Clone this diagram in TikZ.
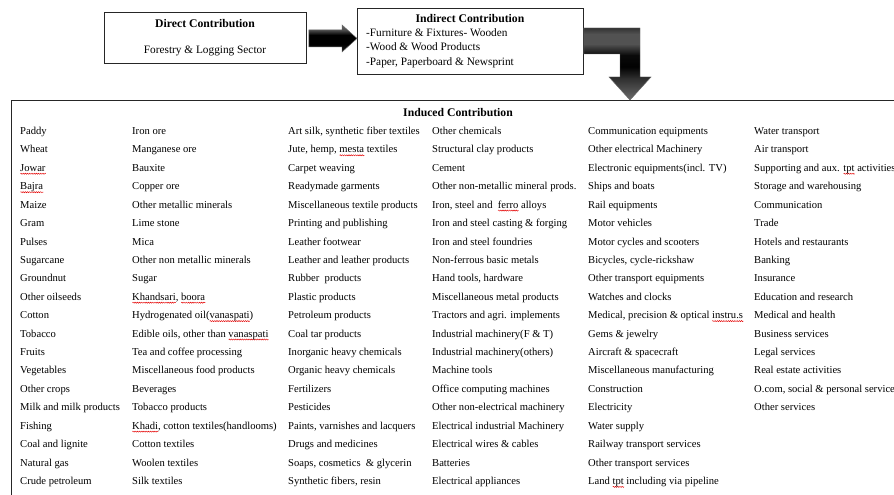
\documentclass[tikz,border=0pt]{standalone}
\usepackage{fontspec}
\setmainfont{Liberation Serif}
\usetikzlibrary{calc,decorations.pathmorphing}
% red wavy underline, as a spell checker marks a word
\newsavebox\spellbox
\newlength\spelllen
\newcommand\spellmark[1]{\sbox\spellbox{#1}\setlength\spelllen{\wd\spellbox}%
  \rlap{\tikz[baseline=0pt, x=1bp, y=1bp]\draw[red!90!black, line width=0.45bp, decorate,
    decoration={zigzag, segment length=2.2bp, amplitude=0.55bp}] (0,-2.4) -- (\spelllen,-2.4bp);}%
  \usebox\spellbox}

\tikzset{
  frame/.style={draw=black!85, line width=0.9bp, inner sep=0},
  headtext/.style={font=\fontsize{11.7bp}{14bp}\selectfont\bfseries, inner sep=0},
  boxtext/.style={font=\fontsize{11.3bp}{14.5bp}\selectfont, inner sep=0},
  item/.style={anchor=base west, inner sep=0, font=\fontsize{10.6bp}{12bp}\selectfont},
  arrowedge/.style={draw=black!60, line width=0.45bp},
}

\begin{document}
\begin{tikzpicture}[x=1bp, y=-1bp]
  \useasboundingbox (0,0) rectangle (894,495);
  \fill[white] (0,0) rectangle (894,495);

  % direct contribution
  \node[frame, anchor=north west, minimum width=202bp, minimum height=51bp] (direct) at (104,12) {};
  \node[headtext, anchor=base] (directtitle) at (205,28) {Direct Contribution};
  \node[boxtext, anchor=base] (directsector) at (205,54) {Forestry \& Logging Sector};

  % indirect contribution
  \node[frame, anchor=north west, minimum width=226bp, minimum height=66bp] (indirect) at (357,8) {};
  \node[headtext, anchor=base] (indirecttitle) at (470,23) {Indirect Contribution};
  \node[boxtext, anchor=base west] (ind1) at (366,36.5) {-Furniture \& Fixtures- Wooden};
  \node[boxtext, anchor=base west] (ind2) at (366,50.5) {-Wood \& Wood Products};
  \node[boxtext, anchor=base west] (ind3) at (366,65.5) {-Paper, Paperboard \& Newsprint};

  % induced contribution (frame runs past the page edge)
  \node[frame, anchor=north west, minimum width=920bp, minimum height=420bp] (induced) at (11,100) {};
  \node[headtext, anchor=base] (inducedtitle) at (458,117) {Induced Contribution};

  % sectors, column by column
  \foreach \t [count=\i] in {Paddy, Wheat, \spellmark{Jowar}, \spellmark{Bajra}, Maize, Gram, Pulses,
      Sugarcane, Groundnut, Other oilseeds, Cotton, Tobacco, Fruits, Vegetables, Other crops,
      Milk and milk products, Fishing, Coal and lignite, Natural gas, Crude petroleum}
    \node[item] (ca\i) at (20,{134.5+18.42*(\i-1)}) {\t};

  \foreach \t [count=\i] in {Iron ore, Manganese ore, Bauxite, Copper ore, Other metallic minerals,
      Lime stone, Mica, Other non metallic minerals, Sugar, {\spellmark{Khandsari}, \spellmark{boora}},
      Hydrogenated oil(\spellmark{vanaspati}), {Edible oils, other than \spellmark{vanaspati}},
      Tea and coffee processing, Miscellaneous food products, Beverages, Tobacco products,
      {\spellmark{Khadi}, cotton textiles(handlooms)}, Cotton textiles, Woolen textiles, Silk textiles}
    \node[item] (cb\i) at (132,{134.5+18.42*(\i-1)}) {\t};

  \foreach \t [count=\i] in {{Art silk, synthetic fiber textiles}, {Jute, hemp, \spellmark{mesta} textiles},
      Carpet weaving, Readymade garments, Miscellaneous textile products, Printing and publishing,
      Leather footwear, Leather and leather products, Rubber\ \ products, Plastic products,
      Petroleum products, Coal tar products, Inorganic heavy chemicals, Organic heavy chemicals,
      Fertilizers, Pesticides, {Paints, varnishes and lacquers}, Drugs and medicines,
      {Soaps, cosmetics\ \ \& glycerin}, {Synthetic fibers, resin}}
    \node[item] (cc\i) at (288,{134.5+18.42*(\i-1)}) {\t};

  \foreach \t [count=\i] in {Other chemicals, Structural clay products, Cement,
      Other non-metallic mineral prods., {Iron, steel and\ \ \spellmark{ferro} alloys},
      Iron and steel casting \& forging, Iron and steel foundries, Non-ferrous basic metals,
      {Hand tools, hardware}, Miscellaneous metal products, Tractors and agri. implements,
      Industrial machinery(F \& T), Industrial machinery(others), Machine tools,
      Office computing machines, Other non-electrical machinery, Electrical industrial Machinery,
      Electrical wires \& cables, Batteries, Electrical appliances}
    \node[item] (cd\i) at (432,{134.5+18.42*(\i-1)}) {\t};

  \foreach \t [count=\i] in {Communication equipments, Other electrical Machinery,
      Electronic equipments(incl. TV), Ships and boats, Rail equipments, Motor vehicles,
      Motor cycles and scooters, {Bicycles, cycle-rickshaw}, Other transport equipments,
      Watches and clocks, {Medical, precision \& optical \spellmark{instru.s}}, Gems \& jewelry,
      Aircraft \& spacecraft, Miscellaneous manufacturing, Construction, Electricity,
      Water supply, Railway transport services, Other transport services,
      Land \spellmark{tpt} including via pipeline}
    \node[item] (ce\i) at (588,{134.5+18.42*(\i-1)}) {\t};

  \foreach \t [count=\i] in {Water transport, Air transport, Supporting and aux. \spellmark{tpt} activities,
      Storage and warehousing, Communication, Trade, Hotels and restaurants, Banking, Insurance,
      Education and research, Medical and health, Business services, Legal services,
      Real estate activities, {O.com, social \& personal service}, Other services}
    \node[item] (cf\i) at (754,{134.5+18.42*(\i-1)}) {\t};

  % block arrow from direct to indirect contribution
  \coordinate (hA) at ($(direct.east)+(2,0.5)$);
  \coordinate (hB) at (indirect.west |- hA);
  \def\flatoutline{($(hA)+(0,-8.5)$) -- ($(hB)+(-15,-8.5)$) -- ($(hB)+(-15,-13.5)$) -- (hB)
    -- ($(hB)+(-15,13.5)$) -- ($(hB)+(-15,8.5)$) -- ($(hA)+(0,8.5)$) -- cycle}
  \begin{scope}
    \clip \flatoutline;
    % glossy fill: lighter rim on top, black below
    \foreach \y in {24,...,52} {
      \pgfmathsetmacro\v{\y<30 ? 58+(\y-24)*2 : (\y<35 ? 70+(\y-30)*6 : (\y<44 ? 100 : 100-(\y-44)*1.6))}
      \fill[black!\v] (300,\y) rectangle (360,\y+1.2);
    }
  \end{scope}
  \path[arrowedge] \flatoutline;

  % bent block arrow from indirect to induced contribution
  \coordinate (bTip) at ($(induced.north west)+(619,0)$);
  \def\bentoutline{($(indirect.north east)+(0,20)$) -- ($(bTip)+(10,-72)$) -- ($(bTip)+(10,-23)$)
    -- ($(bTip)+(21,-23)$) -- (bTip) -- ($(bTip)+(-21,-23)$) -- ($(bTip)+(-10,-23)$)
    -- ($(bTip)+(-10,-46)$) -- ($(indirect.north east)+(0,46)$) -- cycle}
  \begin{scope}
    \clip \bentoutline;
    % glossy fill: grey band on top, black at the bend, grey towards the tip
    \foreach \y in {27,...,102} {
      \pgfmathsetmacro\v{\y<34 ? 82-(\y-27)*2 : (\y<44 ? 68 : (\y<55 ? 68+(\y-44)*2.5 :
        (\y<67 ? 96+(\y-55)*0.3 : (\y<78 ? 99-(\y-67)*1.5 : 82-(\y-78)*1.1))))}
      \fill[black!\v] (575,\y) rectangle (660,\y+1.2);
    }
  \end{scope}
  \path[arrowedge] \bentoutline;
\end{tikzpicture}
\end{document}
